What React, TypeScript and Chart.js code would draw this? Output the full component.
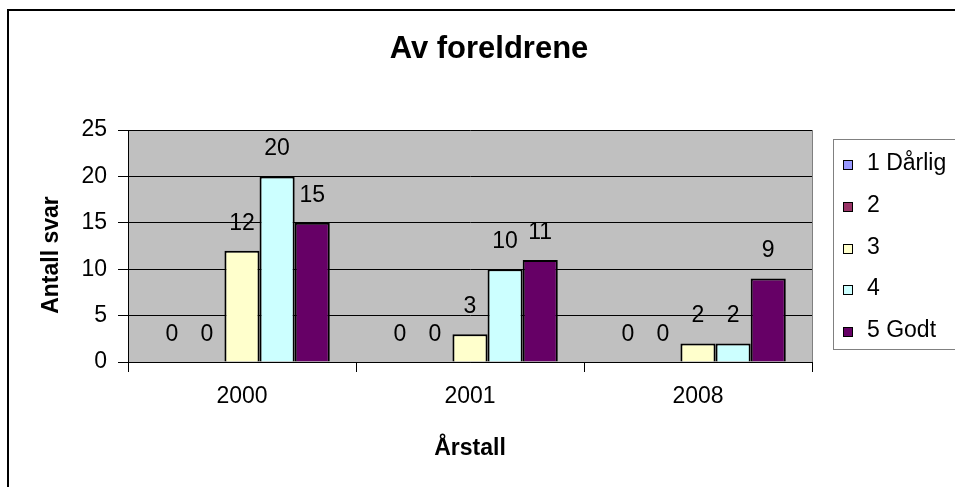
import React, { useEffect, useRef } from "react";
import { Chart, registerables } from "chart.js";

Chart.register(...registerables);

const categories = ["2000", "2001", "2008"];
const seriesLabels = ["1 Dårlig", "2", "3", "4", "5 Godt"];
const series1 = [0, 0, 0];
const series2 = [0, 0, 0];
const series3 = [12, 3, 2];
const series4 = [20, 10, 2];
const series5 = [15, 11, 9];
const seriesColors = ["#9999FF", "#993366", "#FFFFCC", "#CCFFFF", "#660066"];
const chartTitle = "Av foreldrene";
const yTitle = "Antall svar";
const xTitle = "Årstall";

const FONT = "'Liberation Sans', Arial, sans-serif";

const decorPlugin = {
  id: "decor",
  beforeDraw(chart: any) {
    const { ctx, chartArea } = chart;
    ctx.save();
    ctx.fillStyle = "#C0C0C0";
    ctx.fillRect(chartArea.left, chartArea.top, chartArea.right - chartArea.left, chartArea.bottom - chartArea.top);
    ctx.restore();
  },
  afterDatasetsDraw(chart: any) {
    const { ctx, chartArea } = chart;
    ctx.save();
    ctx.strokeStyle = "#808080";
    ctx.lineWidth = 1;
    ctx.beginPath();
    ctx.moveTo(Math.round(chartArea.right) + 0.5, chartArea.top);
    ctx.lineTo(Math.round(chartArea.right) + 0.5, chartArea.bottom);
    ctx.stroke();
    ctx.fillStyle = "#000";
    ctx.font = `23px ${FONT}`;
    ctx.textAlign = "center";
    ctx.textBaseline = "alphabetic";
    chart.data.datasets.forEach((ds: any, i: number) => {
      const meta = chart.getDatasetMeta(i);
      meta.data.forEach((el: any, j: number) => {
        ctx.fillText(String(ds.data[j]), el.x, el.y - 21);
      });
    });
    ctx.restore();
  },
  afterDraw(chart: any) {
    const { ctx } = chart;
    ctx.save();
    ctx.strokeStyle = "#000";
    ctx.lineWidth = 2;
    ctx.beginPath();
    ctx.moveTo(8, 2000);
    ctx.lineTo(8, 10);
    ctx.lineTo(2000, 10);
    ctx.stroke();
    ctx.fillStyle = "#000";
    ctx.textAlign = "center";
    ctx.textBaseline = "alphabetic";
    ctx.font = `bold 31px ${FONT}`;
    ctx.fillText(chartTitle, 489, 58);
    ctx.font = `bold 23px ${FONT}`;
    ctx.fillText(xTitle, 470, 455);
    ctx.save();
    ctx.translate(51.5, 255);
    ctx.rotate(-Math.PI / 2);
    ctx.textBaseline = "middle";
    ctx.fillText(yTitle, 0, 0);
    ctx.restore();
    ctx.strokeStyle = "#808080";
    ctx.lineWidth = 1;
    ctx.strokeRect(833.5, 139.5, 300, 210);
    ctx.font = `23px ${FONT}`;
    ctx.textAlign = "left";
    chart.data.datasets.forEach((ds: any, i: number) => {
      const base = 170 + i * 41.75;
      const top = Math.round(base - 10);
      ctx.fillStyle = ds.backgroundColor;
      ctx.fillRect(843, top, 10, 10);
      ctx.strokeStyle = "#000";
      ctx.strokeRect(843.5, top + 0.5, 9, 9);
      ctx.fillStyle = "#000";
      ctx.fillText(ds.label, 867, base);
    });
    ctx.restore();
  },
};

export default function App() {
  const ref = useRef<HTMLCanvasElement>(null);
  useEffect(() => {
    if (!ref.current) return;
    const allSeries = [series1, series2, series3, series4, series5];
    const chart = new Chart(ref.current, {
      type: "bar",
      data: {
        labels: categories,
        datasets: allSeries.map((d, i) => ({
          label: seriesLabels[i],
          data: d,
          backgroundColor: seriesColors[i],
          borderColor: "#000",
          borderWidth: 2,
          categoryPercentage: 0.77,
          barPercentage: 1,
        })),
      },
      options: {
        animation: false,
        responsive: false,
        devicePixelRatio: 1,
        layout: { padding: { left: 68, right: 143, top: 130, bottom: 65 } },
        plugins: {
          legend: { display: false },
          title: { display: false },
          tooltip: { enabled: false },
        },
        scales: {
          x: {
            offset: true,
            grid: { display: true, drawOnChartArea: false, offset: true, tickLength: 10, color: "#000" },
            border: { display: true, color: "#000", width: 1 },
            ticks: { color: "#000", font: { family: FONT, size: 23 }, padding: 11 },
            afterFit: (s: any) => { s.height = 60; },
          },
          y: {
            min: 0,
            max: 25,
            ticks: { stepSize: 5, color: "#000", font: { family: FONT, size: 23 }, padding: 11 },
            grid: { color: "#000", tickLength: 10, lineWidth: 1 },
            border: { display: true, color: "#000", width: 1 },
            afterFit: (s: any) => { s.width = 60; },
          },
        },
      },
      plugins: [decorPlugin],
    });
    return () => chart.destroy();
  }, []);
  return (
    <div style={{ position: "fixed", left: 0, top: 0, width: 955, height: 487, overflow: "hidden", background: "#fff" }}>
      <canvas ref={ref} width={955} height={487} style={{ display: "block" }} />
    </div>
  );
}
